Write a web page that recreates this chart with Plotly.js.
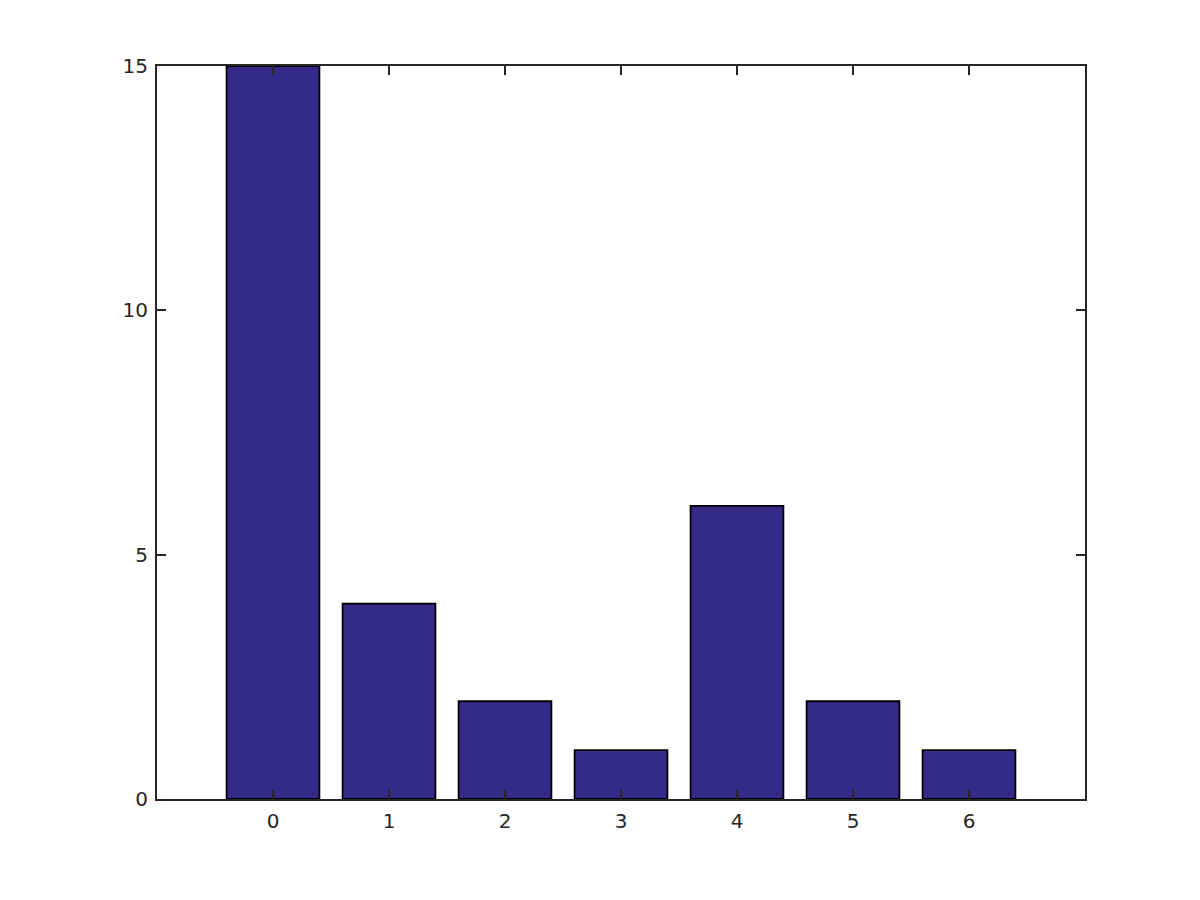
<!DOCTYPE html>
<html>
<head>
<meta charset="utf-8">
<script src="https://cdn.plot.ly/plotly-3.0.1.min.js"></script>
<style>html,body{margin:0;padding:0;background:#fff;}#chart{width:1200px;height:900px;}</style>
</head>
<body>
<div id="chart"></div>
<script>
const categories = [0, 1, 2, 3, 4, 5, 6];
const counts = [15, 4, 2, 1, 6, 2, 1];
const yTicks = [0, 5, 10, 15];

const axisColor = '#262626';
Plotly.newPlot('chart', [{
  type: 'bar',
  x: categories,
  y: counts,
  width: 0.8,
  marker: {color: '#352a87', line: {color: '#000000', width: 1.8}},
  hoverinfo: 'x+y'
}], {
  width: 1200,
  height: 900,
  margin: {l: 157, r: 115, t: 66, b: 101, pad: 0},
  paper_bgcolor: '#ffffff',
  plot_bgcolor: '#ffffff',
  showlegend: false,
  font: {family: 'DejaVu Sans, sans-serif', size: 20, color: axisColor},
  xaxis: {
    range: [-1, 7],
    tickmode: 'array',
    tickvals: categories,
    ticktext: categories.map(String),
    ticks: 'inside',
    ticklen: 9,
    tickwidth: 2,
    tickcolor: axisColor,
    showline: true,
    linecolor: axisColor,
    linewidth: 2,
    mirror: 'ticks',
    showgrid: false,
    zeroline: false,
    ticklabelstandoff: 3,
    tickfont: {family: 'DejaVu Sans, sans-serif', size: 20, color: axisColor}
  },
  yaxis: {
    range: [0, 15],
    tickmode: 'array',
    tickvals: yTicks,
    ticktext: yTicks.map(String),
    ticks: 'inside',
    ticklen: 9,
    tickwidth: 2,
    tickcolor: axisColor,
    showline: true,
    linecolor: axisColor,
    linewidth: 2,
    mirror: 'ticks',
    showgrid: false,
    zeroline: false,
    ticklabelstandoff: 3,
    tickfont: {family: 'DejaVu Sans, sans-serif', size: 20, color: axisColor}
  },
  bargap: 0.2
}, {displayModeBar: false, staticPlot: true});
</script>
</body>
</html>
